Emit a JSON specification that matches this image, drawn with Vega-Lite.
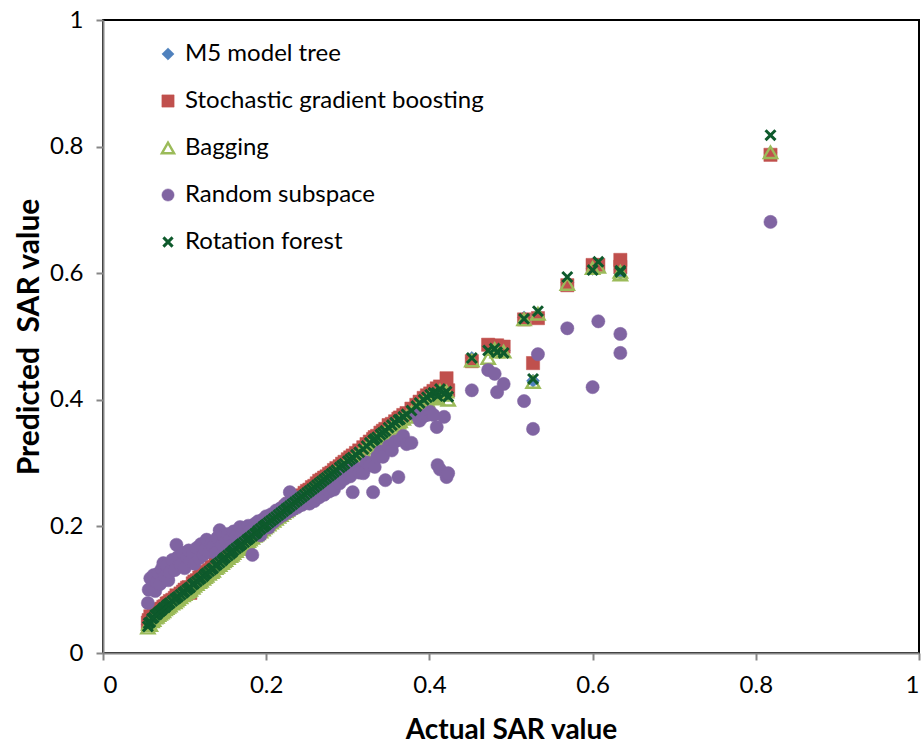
{
  "$schema": "https://vega.github.io/schema/vega-lite/v6.json",
  "width": 816,
  "height": 633,
  "autosize": {"type": "none"},
  "padding": {"left": 103, "top": 20, "right": 4, "bottom": 91},
  "background": "white",
  "config": {
    "font": "Lato",
    "view": {"stroke": "#000000", "strokeWidth": 2},
    "axis": {
      "grid": false,
      "domainColor": "#868686",
      "domainWidth": 2,
      "tickColor": "#868686",
      "tickWidth": 2,
      "tickSize": 7,
      "labelFont": "Lato",
      "labelFontSize": 24,
      "labelColor": "#000000",
      "labelPadding": 13,
      "titleFont": "Lato",
      "titleFontSize": 28,
      "titleFontWeight": "bold",
      "titleColor": "#000000"
    },
    "legend": {
      "labelFont": "Lato",
      "labelFontSize": 24,
      "labelColor": "#000000",
      "labelLimit": 600
    }
  },
  "data": {
    "values": [
      {"a":0.055,"m5":0.045,"sgb":0.048,"bag":0.040,"rs":0.079,"rf":0.042},
      {"a":0.056,"m5":0.050,"sgb":0.052,"bag":0.046,"rs":0.100,"rf":0.047},
      {"a":0.058,"m5":0.046,"sgb":0.058,"bag":0.044,"rs":0.118,"rf":0.049},
      {"a":0.060,"m5":0.052,"sgb":0.055,"bag":0.050,"rs":0.104,"rf":0.054},
      {"a":0.062,"m5":0.055,"sgb":0.062,"bag":0.052,"rs":0.123,"rf":0.056},
      {"a":0.064,"m5":0.058,"sgb":0.060,"bag":0.056,"rs":0.098,"rf":0.060},
      {"a":0.066,"m5":0.059,"sgb":0.066,"bag":0.057,"rs":0.112,"rf":0.061},
      {"a":0.068,"m5":0.062,"sgb":0.064,"bag":0.060,"rs":0.126,"rf":0.064},
      {"a":0.070,"m5":0.064,"sgb":0.069,"bag":0.062,"rs":0.109,"rf":0.066},
      {"a":0.072,"m5":0.066,"sgb":0.070,"bag":0.064,"rs":0.133,"rf":0.068},
      {"a":0.074,"m5":0.068,"sgb":0.073,"bag":0.066,"rs":0.142,"rf":0.071},
      {"a":0.076,"m5":0.070,"sgb":0.074,"bag":0.069,"rs":0.121,"rf":0.072},
      {"a":0.078,"m5":0.073,"sgb":0.078,"bag":0.071,"rs":0.138,"rf":0.075},
      {"a":0.080,"m5":0.075,"sgb":0.079,"bag":0.073,"rs":0.115,"rf":0.077},
      {"a":0.082,"m5":0.076,"sgb":0.082,"bag":0.075,"rs":0.128,"rf":0.079},
      {"a":0.085,"m5":0.080,"sgb":0.084,"bag":0.078,"rs":0.147,"rf":0.082},
      {"a":0.088,"m5":0.083,"sgb":0.087,"bag":0.080,"rs":0.131,"rf":0.085},
      {"a":0.090,"m5":0.085,"sgb":0.091,"bag":0.083,"rs":0.171,"rf":0.087},
      {"a":0.092,"m5":0.087,"sgb":0.090,"bag":0.085,"rs":0.152,"rf":0.089},
      {"a":0.095,"m5":0.090,"sgb":0.094,"bag":0.088,"rs":0.139,"rf":0.092},
      {"a":0.098,"m5":0.093,"sgb":0.097,"bag":0.091,"rs":0.158,"rf":0.095},
      {"a":0.100,"m5":0.095,"sgb":0.100,"bag":0.093,"rs":0.134,"rf":0.097},
      {"a":0.103,"m5":0.098,"sgb":0.103,"bag":0.096,"rs":0.151,"rf":0.100},
      {"a":0.105,"m5":0.100,"sgb":0.104,"bag":0.098,"rs":0.162,"rf":0.102},
      {"a":0.107,"m5":0.102,"sgb":0.095,"bag":0.100,"rs":0.145,"rf":0.104},
      {"a":0.110,"m5":0.106,"sgb":0.110,"bag":0.103,"rs":0.157,"rf":0.108},
      {"a":0.112,"m5":0.108,"sgb":0.113,"bag":0.106,"rs":0.141,"rf":0.110},
      {"a":0.115,"m5":0.111,"sgb":0.115,"bag":0.109,"rs":0.166,"rf":0.113},
      {"a":0.118,"m5":0.114,"sgb":0.119,"bag":0.112,"rs":0.150,"rf":0.116},
      {"a":0.120,"m5":0.116,"sgb":0.121,"bag":0.114,"rs":0.172,"rf":0.118},
      {"a":0.123,"m5":0.119,"sgb":0.123,"bag":0.117,"rs":0.155,"rf":0.121},
      {"a":0.125,"m5":0.122,"sgb":0.127,"bag":0.120,"rs":0.163,"rf":0.124},
      {"a":0.127,"m5":0.124,"sgb":0.128,"bag":0.122,"rs":0.179,"rf":0.126},
      {"a":0.130,"m5":0.127,"sgb":0.131,"bag":0.125,"rs":0.160,"rf":0.129},
      {"a":0.133,"m5":0.130,"sgb":0.135,"bag":0.128,"rs":0.173,"rf":0.132},
      {"a":0.135,"m5":0.132,"sgb":0.136,"bag":0.130,"rs":0.168,"rf":0.134},
      {"a":0.138,"m5":0.136,"sgb":0.140,"bag":0.134,"rs":0.158,"rf":0.138},
      {"a":0.140,"m5":0.138,"sgb":0.142,"bag":0.136,"rs":0.182,"rf":0.140},
      {"a":0.143,"m5":0.141,"sgb":0.146,"bag":0.139,"rs":0.194,"rf":0.143},
      {"a":0.146,"m5":0.144,"sgb":0.148,"bag":0.142,"rs":0.171,"rf":0.146},
      {"a":0.148,"m5":0.147,"sgb":0.151,"bag":0.145,"rs":0.185,"rf":0.149},
      {"a":0.150,"m5":0.149,"sgb":0.153,"bag":0.147,"rs":0.176,"rf":0.151},
      {"a":0.153,"m5":0.152,"sgb":0.156,"bag":0.150,"rs":0.188,"rf":0.154},
      {"a":0.156,"m5":0.155,"sgb":0.159,"bag":0.153,"rs":0.180,"rf":0.157},
      {"a":0.158,"m5":0.157,"sgb":0.162,"bag":0.155,"rs":0.170,"rf":0.159},
      {"a":0.160,"m5":0.160,"sgb":0.164,"bag":0.158,"rs":0.192,"rf":0.162},
      {"a":0.163,"m5":0.163,"sgb":0.167,"bag":0.161,"rs":0.184,"rf":0.165},
      {"a":0.166,"m5":0.166,"sgb":0.170,"bag":0.164,"rs":0.178,"rf":0.168},
      {"a":0.168,"m5":0.168,"sgb":0.172,"bag":0.166,"rs":0.199,"rf":0.170},
      {"a":0.170,"m5":0.170,"sgb":0.174,"bag":0.168,"rs":0.189,"rf":0.172},
      {"a":0.173,"m5":0.173,"sgb":0.177,"bag":0.171,"rs":0.196,"rf":0.175},
      {"a":0.176,"m5":0.176,"sgb":0.180,"bag":0.174,"rs":0.186,"rf":0.178},
      {"a":0.178,"m5":0.178,"sgb":0.183,"bag":0.177,"rs":0.201,"rf":0.180},
      {"a":0.180,"m5":0.181,"sgb":0.184,"bag":0.179,"rs":0.193,"rf":0.182},
      {"a":0.183,"m5":0.184,"sgb":0.187,"bag":0.182,"rs":0.155,"rf":0.185},
      {"a":0.186,"m5":0.187,"sgb":0.191,"bag":0.185,"rs":0.204,"rf":0.188},
      {"a":0.188,"m5":0.189,"sgb":0.192,"bag":0.187,"rs":0.196,"rf":0.190},
      {"a":0.190,"m5":0.191,"sgb":0.195,"bag":0.189,"rs":0.208,"rf":0.193},
      {"a":0.193,"m5":0.194,"sgb":0.198,"bag":0.192,"rs":0.186,"rf":0.196},
      {"a":0.196,"m5":0.197,"sgb":0.201,"bag":0.195,"rs":0.211,"rf":0.199},
      {"a":0.198,"m5":0.200,"sgb":0.203,"bag":0.198,"rs":0.203,"rf":0.201},
      {"a":0.200,"m5":0.202,"sgb":0.205,"bag":0.200,"rs":0.216,"rf":0.203},
      {"a":0.203,"m5":0.205,"sgb":0.208,"bag":0.203,"rs":0.198,"rf":0.206},
      {"a":0.206,"m5":0.208,"sgb":0.212,"bag":0.206,"rs":0.219,"rf":0.209},
      {"a":0.209,"m5":0.211,"sgb":0.214,"bag":0.209,"rs":0.207,"rf":0.212},
      {"a":0.212,"m5":0.214,"sgb":0.218,"bag":0.212,"rs":0.225,"rf":0.215},
      {"a":0.215,"m5":0.217,"sgb":0.220,"bag":0.215,"rs":0.213,"rf":0.218},
      {"a":0.218,"m5":0.220,"sgb":0.224,"bag":0.218,"rs":0.229,"rf":0.221},
      {"a":0.221,"m5":0.223,"sgb":0.226,"bag":0.221,"rs":0.218,"rf":0.224},
      {"a":0.224,"m5":0.226,"sgb":0.230,"bag":0.224,"rs":0.236,"rf":0.227},
      {"a":0.226,"m5":0.228,"sgb":0.231,"bag":0.226,"rs":0.222,"rf":0.229},
      {"a":0.229,"m5":0.231,"sgb":0.235,"bag":0.229,"rs":0.254,"rf":0.232},
      {"a":0.232,"m5":0.234,"sgb":0.237,"bag":0.232,"rs":0.226,"rf":0.235},
      {"a":0.235,"m5":0.237,"sgb":0.241,"bag":0.235,"rs":0.241,"rf":0.238},
      {"a":0.238,"m5":0.240,"sgb":0.243,"bag":0.238,"rs":0.230,"rf":0.241},
      {"a":0.241,"m5":0.243,"sgb":0.247,"bag":0.241,"rs":0.246,"rf":0.244},
      {"a":0.244,"m5":0.246,"sgb":0.249,"bag":0.244,"rs":0.234,"rf":0.247},
      {"a":0.247,"m5":0.249,"sgb":0.253,"bag":0.247,"rs":0.239,"rf":0.250},
      {"a":0.250,"m5":0.252,"sgb":0.256,"bag":0.250,"rs":0.245,"rf":0.253},
      {"a":0.253,"m5":0.255,"sgb":0.258,"bag":0.253,"rs":0.236,"rf":0.256},
      {"a":0.256,"m5":0.258,"sgb":0.262,"bag":0.256,"rs":0.251,"rf":0.259},
      {"a":0.259,"m5":0.261,"sgb":0.264,"bag":0.259,"rs":0.240,"rf":0.262},
      {"a":0.262,"m5":0.264,"sgb":0.268,"bag":0.262,"rs":0.255,"rf":0.265},
      {"a":0.265,"m5":0.267,"sgb":0.272,"bag":0.265,"rs":0.246,"rf":0.268},
      {"a":0.268,"m5":0.270,"sgb":0.274,"bag":0.268,"rs":0.258,"rf":0.271},
      {"a":0.271,"m5":0.273,"sgb":0.277,"bag":0.271,"rs":0.250,"rf":0.274},
      {"a":0.274,"m5":0.276,"sgb":0.279,"bag":0.274,"rs":0.263,"rf":0.277},
      {"a":0.277,"m5":0.279,"sgb":0.283,"bag":0.277,"rs":0.255,"rf":0.280},
      {"a":0.280,"m5":0.282,"sgb":0.285,"bag":0.280,"rs":0.266,"rf":0.283},
      {"a":0.283,"m5":0.285,"sgb":0.289,"bag":0.283,"rs":0.258,"rf":0.286},
      {"a":0.286,"m5":0.288,"sgb":0.292,"bag":0.286,"rs":0.272,"rf":0.289},
      {"a":0.290,"m5":0.292,"sgb":0.295,"bag":0.290,"rs":0.268,"rf":0.293},
      {"a":0.293,"m5":0.295,"sgb":0.299,"bag":0.293,"rs":0.281,"rf":0.296},
      {"a":0.296,"m5":0.298,"sgb":0.302,"bag":0.296,"rs":0.275,"rf":0.299},
      {"a":0.300,"m5":0.302,"sgb":0.306,"bag":0.300,"rs":0.288,"rf":0.303},
      {"a":0.303,"m5":0.305,"sgb":0.309,"bag":0.303,"rs":0.279,"rf":0.306},
      {"a":0.306,"m5":0.308,"sgb":0.312,"bag":0.306,"rs":0.254,"rf":0.309},
      {"a":0.310,"m5":0.312,"sgb":0.316,"bag":0.310,"rs":0.292,"rf":0.313},
      {"a":0.314,"m5":0.316,"sgb":0.320,"bag":0.314,"rs":0.285,"rf":0.317},
      {"a":0.319,"m5":0.321,"sgb":0.325,"bag":0.319,"rs":0.284,"rf":0.322},
      {"a":0.323,"m5":0.325,"sgb":0.330,"bag":0.324,"rs":0.301,"rf":0.327},
      {"a":0.327,"m5":0.330,"sgb":0.334,"bag":0.329,"rs":0.296,"rf":0.332},
      {"a":0.331,"m5":0.333,"sgb":0.338,"bag":0.333,"rs":0.254,"rf":0.336},
      {"a":0.333,"m5":0.336,"sgb":0.341,"bag":0.335,"rs":0.294,"rf":0.338},
      {"a":0.336,"m5":0.339,"sgb":0.343,"bag":0.338,"rs":0.310,"rf":0.341},
      {"a":0.340,"m5":0.343,"sgb":0.348,"bag":0.342,"rs":0.318,"rf":0.345},
      {"a":0.343,"m5":0.346,"sgb":0.351,"bag":0.345,"rs":0.310,"rf":0.348},
      {"a":0.346,"m5":0.349,"sgb":0.354,"bag":0.348,"rs":0.273,"rf":0.351},
      {"a":0.350,"m5":0.353,"sgb":0.360,"bag":0.352,"rs":0.327,"rf":0.356},
      {"a":0.354,"m5":0.357,"sgb":0.362,"bag":0.356,"rs":0.320,"rf":0.360},
      {"a":0.358,"m5":0.361,"sgb":0.366,"bag":0.360,"rs":0.334,"rf":0.364},
      {"a":0.362,"m5":0.365,"sgb":0.370,"bag":0.364,"rs":0.278,"rf":0.368},
      {"a":0.364,"m5":0.367,"sgb":0.372,"bag":0.366,"rs":0.337,"rf":0.369},
      {"a":0.368,"m5":0.371,"sgb":0.376,"bag":0.370,"rs":0.343,"rf":0.373},
      {"a":0.372,"m5":0.375,"sgb":0.379,"bag":0.373,"rs":0.330,"rf":0.377},
      {"a":0.378,"m5":0.382,"sgb":0.386,"bag":0.380,"rs":0.332,"rf":0.383},
      {"a":0.384,"m5":0.388,"sgb":0.392,"bag":0.386,"rs":0.376,"rf":0.390},
      {"a":0.388,"m5":0.393,"sgb":0.397,"bag":0.391,"rs":0.367,"rf":0.395},
      {"a":0.393,"m5":0.398,"sgb":0.403,"bag":0.396,"rs":0.374,"rf":0.400},
      {"a":0.397,"m5":0.402,"sgb":0.407,"bag":0.399,"rs":0.376,"rf":0.404},
      {"a":0.401,"m5":0.406,"sgb":0.410,"bag":0.403,"rs":0.381,"rf":0.408},
      {"a":0.405,"m5":0.410,"sgb":0.414,"bag":0.406,"rs":0.376,"rf":0.411},
      {"a":0.409,"m5":0.412,"sgb":0.418,"bag":0.409,"rs":0.357,"rf":0.411},
      {"a":0.410,"m5":0.404,"sgb":0.409,"bag":0.402,"rs":0.297,"rf":0.406},
      {"a":0.413,"m5":0.418,"sgb":0.421,"bag":0.414,"rs":0.290,"rf":0.417},
      {"a":0.418,"m5":0.410,"sgb":0.420,"bag":0.408,"rs":0.373,"rf":0.409},
      {"a":0.421,"m5":0.416,"sgb":0.434,"bag":0.413,"rs":0.278,"rf":0.413},
      {"a":0.423,"m5":0.408,"sgb":0.415,"bag":0.400,"rs":0.284,"rf":0.405},
      {"a":0.452,"m5":0.466,"sgb":0.461,"bag":0.462,"rs":0.415,"rf":0.466},
      {"a":0.472,"m5":0.485,"sgb":0.487,"bag":0.466,"rs":0.447,"rf":0.478},
      {"a":0.480,"m5":0.484,"sgb":0.485,"bag":0.480,"rs":0.441,"rf":0.481},
      {"a":0.483,"m5":0.478,"sgb":0.486,"bag":0.476,"rs":0.412,"rf":0.475},
      {"a":0.491,"m5":0.478,"sgb":0.484,"bag":0.476,"rs":0.425,"rf":0.474},
      {"a":0.516,"m5":0.530,"sgb":0.527,"bag":0.527,"rs":0.398,"rf":0.528},
      {"a":0.527,"m5":0.430,"sgb":0.458,"bag":0.428,"rs":0.354,"rf":0.433},
      {"a":0.533,"m5":0.535,"sgb":0.529,"bag":0.536,"rs":0.472,"rf":0.540},
      {"a":0.569,"m5":0.585,"sgb":0.581,"bag":0.583,"rs":0.513,"rf":0.594},
      {"a":0.600,"m5":0.607,"sgb":0.613,"bag":0.608,"rs":0.420,"rf":0.605},
      {"a":0.607,"m5":0.612,"sgb":0.613,"bag":0.610,"rs":0.524,"rf":0.618},
      {"a":0.634,"m5":0.600,"sgb":0.621,"bag":0.598,"rs":0.504,"rf":0.602},
      {"a":0.634,"m5":0.605,"sgb":0.610,"bag":0.602,"rs":0.474,"rf":0.604},
      {"a":0.818,"m5":0.790,"sgb":0.787,"bag":0.791,"rs":0.681,"rf":0.818}
    ]
  },
  "transform": [
    {"fold": ["m5", "sgb", "bag", "rs", "rf"], "as": ["model", "pred"]},
    {
      "lookup": "model",
      "from": {
        "data": {
          "values": [
            {"model": "m5", "z": 1, "name": "M5 model tree"},
            {"model": "sgb", "z": 2, "name": "Stochastic gradient boosting"},
            {"model": "bag", "z": 3, "name": "Bagging"},
            {"model": "rs", "z": 4, "name": "Random subspace"},
            {"model": "rf", "z": 5, "name": "Rotation forest"}
          ]
        },
        "key": "model",
        "fields": ["z", "name"]
      }
    }
  ],
  "mark": {"type": "point", "size": 175, "opacity": 1},
  "encoding": {
    "x": {
      "field": "a",
      "type": "quantitative",
      "title": "Actual SAR value",
      "scale": {"domain": [0, 1], "nice": false, "zero": true},
      "axis": {"values": [0, 0.2, 0.4, 0.6, 0.8, 1], "format": "~g", "titlePadding": 19}
    },
    "y": {
      "field": "pred",
      "type": "quantitative",
      "title": "Predicted\u00a0\u00a0SAR value",
      "scale": {"domain": [0, 1], "nice": false, "zero": true},
      "axis": {"values": [0, 0.2, 0.4, 0.6, 0.8, 1], "format": "~g", "titlePadding": 5, "titleFontSize": 30}
    },
    "order": {"field": "z", "type": "quantitative"},
    "shape": {
      "field": "name",
      "type": "nominal",
      "scale": {
        "domain": ["M5 model tree", "Stochastic gradient boosting", "Bagging", "Random subspace", "Rotation forest"],
        "range": ["diamond", "square", "triangle-up", "circle", "M-0.75,-0.75L0.75,0.75M-0.75,0.75L0.75,-0.75"]
      },
      "legend": {
        "title": null,
        "orient": "none",
        "legendX": 53,
        "legendY": 22,
        "padding": 0,
        "rowPadding": 23,
        "labelOffset": 5,
        "symbolSize": 150
      }
    },
    "fill": {
      "field": "name",
      "type": "nominal",
      "scale": {
        "domain": ["M5 model tree", "Stochastic gradient boosting", "Bagging", "Random subspace", "Rotation forest"],
        "range": ["#4F81BD", "#C0504D", "transparent", "#8064A2", "transparent"]
      }
    },
    "stroke": {
      "field": "name",
      "type": "nominal",
      "scale": {
        "domain": ["M5 model tree", "Stochastic gradient boosting", "Bagging", "Random subspace", "Rotation forest"],
        "range": ["#4F81BD", "#C0504D", "#9BBB59", "#8064A2", "#0E5A2C"]
      }
    },
    "strokeWidth": {
      "field": "name",
      "type": "nominal",
      "scale": {
        "type": "ordinal",
        "domain": ["M5 model tree", "Stochastic gradient boosting", "Bagging", "Random subspace", "Rotation forest"],
        "range": [0.5, 0.5, 2.4, 0.5, 3]
      }
    }
  }
}
